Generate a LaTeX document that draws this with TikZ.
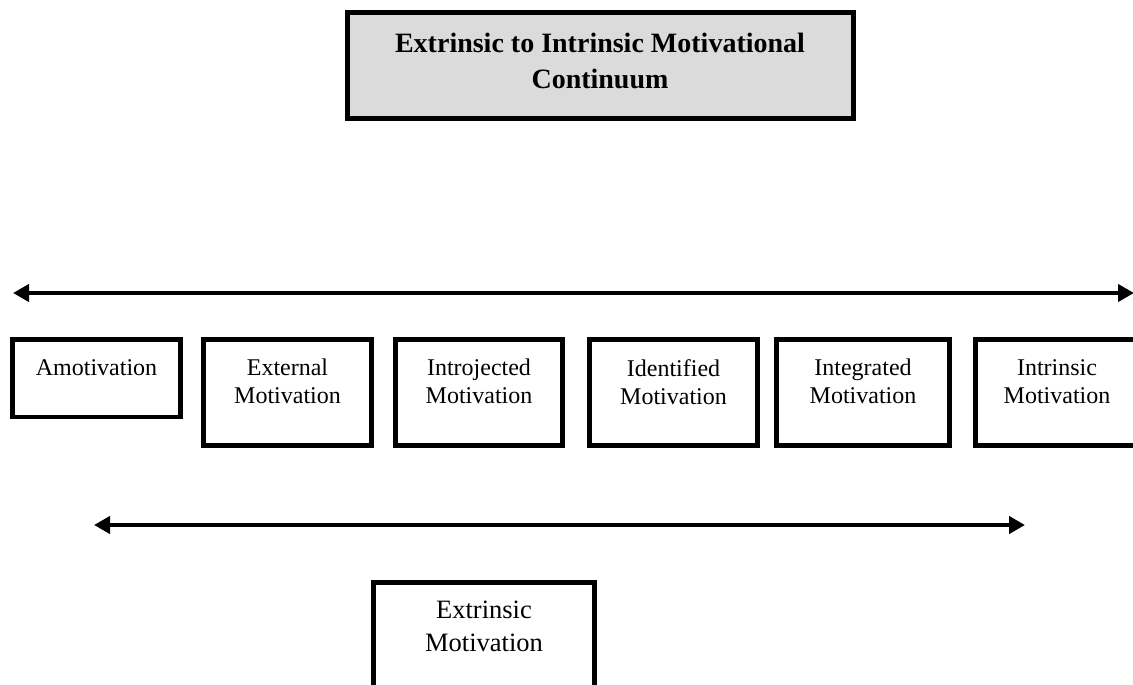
\documentclass[tikz,border=0pt]{standalone}
\usepackage{fontspec}
\setmainfont{Liberation Serif}
\usetikzlibrary{arrows.meta}
\begin{document}
\begin{tikzpicture}[x=1pt,y=-1pt,
  boxshape/.style={draw=black, line width=4.5pt, fill=white, inner sep=0pt},
  titleshape/.style={draw=black, line width=5pt, fill=gray!28, inner sep=0pt},
  boxtext/.style={font=\fontsize{24}{28}\selectfont, align=center, anchor=north, inner sep=0pt},
  bigtext/.style={font=\fontsize{26.5}{33}\selectfont, align=center, anchor=north, inner sep=0pt},
  titletext/.style={font=\bfseries\fontsize{28}{36}\selectfont, align=center, anchor=north, inner sep=0pt},
  continuum/.style={line width=4.5pt, {Triangle[length=16pt,width=17pt]}-{Triangle[length=16pt,width=17pt]}}
]
\clip (0,0) rectangle (1133,685);
\fill[white] (0,0) rectangle (1133,685);

% title
\draw[titleshape] (347.5,12.5) rectangle (853.5,118.5);
\node[titletext] (title) at (600,33) {Extrinsic to Intrinsic Motivational\\Continuum};

% top continuum arrow
\coordinate (tl) at (13,293);
\coordinate (tr) at (1134,293);
\draw[continuum] (tl) -- (tr);

% row of boxes
\draw[boxshape] (12.5,339.5) rectangle (180.5,417);
\node[boxtext] (amo) at (96.5,359) {Amotivation};

\draw[boxshape] (203.5,339.5) rectangle (371.5,445.5);
\node[boxtext] (ext) at (287.5,359) {External\\Motivation};

\draw[boxshape] (395.5,339.5) rectangle (562.5,445.5);
\node[boxtext] (intro) at (479,359) {Introjected\\Motivation};

\draw[boxshape] (589.5,339.5) rectangle (757.5,445.5);
\node[boxtext] (ident) at (673.5,359) {Identified\\Motivation};

\draw[boxshape] (776.5,339.5) rectangle (949.5,445.5);
\node[boxtext] (integ) at (863,359) {Integrated\\Motivation};

\draw[boxshape] (975.5,339.5) rectangle (1160,445.5);
\node[boxtext] (intr) at (1057,359) {Intrinsic\\Motivation};

% bottom extrinsic arrow
\coordinate (bl) at (94,525);
\coordinate (br) at (1025,525);
\draw[continuum] (bl) -- (br);

% extrinsic box
\draw[boxshape] (373.5,582.5) rectangle (594.5,720);
\node[bigtext] (extr) at (484,601) {Extrinsic\\Motivation};
\end{tikzpicture}
\end{document}
